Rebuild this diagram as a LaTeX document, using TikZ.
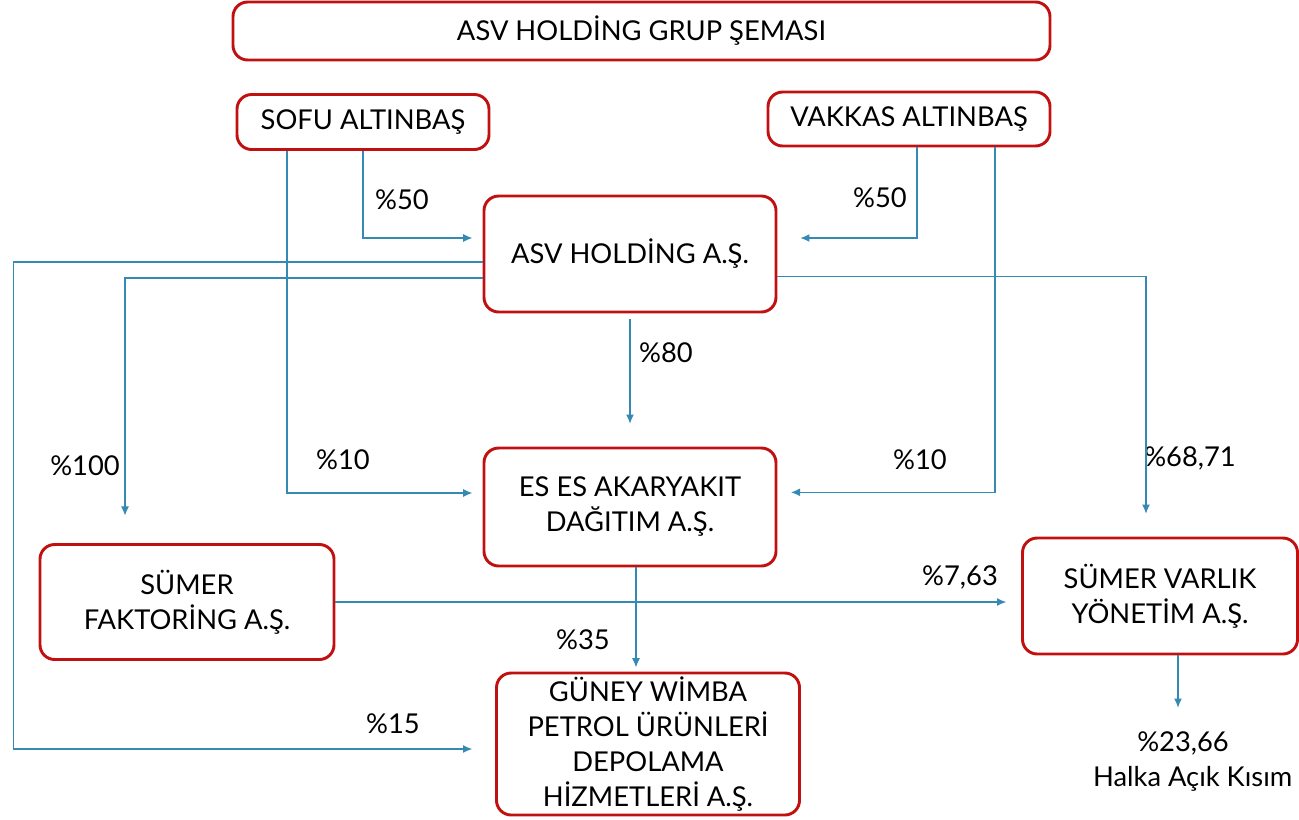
\documentclass[tikz,border=0pt]{standalone}
\usepackage{fontspec}
\setmainfont{Lato}
\usepackage{tikz}
\usetikzlibrary{arrows.meta}
\definecolor{boxred}{RGB}{192,16,16}
\definecolor{linkblue}{RGB}{52,138,178}

\begin{document}
\begin{tikzpicture}[x=0.75pt, y=-0.75pt,
  every node/.style={font=\fontsize{20.5}{26.25}\selectfont},
  box/.style={draw=boxred, line width=2.2pt, rounded corners=11pt, align=center, inner sep=0pt},
  link/.style={draw=linkblue, line width=1.1pt, ->, shorten >=7.5pt},
  >={Latex[length=7pt,width=6pt]}]
  \useasboundingbox (0,0) rectangle (1299,819);

  % companies and owners
  \node[box, minimum width=612.75pt, minimum height=43.5pt]  (title)     at (641.5,31) {ASV HOLDİNG GRUP ŞEMASI};
  \node[box, minimum width=189pt,    minimum height=41.25pt] (sofu)      at (363,122)  {SOFU ALTINBAŞ};
  \node[box, minimum width=211.5pt,  minimum height=40.5pt]  (vakkas)    at (909,119)  {VAKKAS ALTINBAŞ};
  \node[box, minimum width=219pt,    minimum height=87pt]    (asv)       at (630,254)  {ASV HOLDİNG A.Ş.};
  \node[box, minimum width=219pt,    minimum height=88.5pt]  (eses)      at (630,507)  {ES ES AKARYAKIT\\DAĞITIM A.Ş.};
  \node[box, minimum width=220.5pt,  minimum height=86.25pt] (faktoring) at (187,602)  {SÜMER\\FAKTORİNG A.Ş.};
  \node[box, minimum width=227.25pt, minimum height=106.5pt] (guney)     at (648,744)  {GÜNEY WİMBA\\PETROL ÜRÜNLERİ\\DEPOLAMA\\HİZMETLERİ A.Ş.};
  \node[box, minimum width=206.25pt, minimum height=87pt]    (varlik)    at (1160,596) {SÜMER VARLIK\\YÖNETİM A.Ş.};
  \node (pct)   at (1183,743) {\%23,66};
  \node[anchor=east] (halka) at (1297,779) {Halka Açık Kısım};

  % share labels
  \node (p50s)  at (402,200)  {\%50};
  \node (p50v)  at (880,198)  {\%50};
  \node (p10s)  at (343,460)  {\%10};
  \node (p10v)  at (920,460)  {\%10};
  \node (p100)  at (85,466)   {\%100};
  \node (p80)   at (666,353)  {\%80};
  \node (p6871) at (1190,458) {\%68,71};
  \node (p35)   at (583,640)  {\%35};
  \node (p763)  at (960,577)  {\%7,63};
  \node (p15)   at (393,724)  {\%15};

  % ownership links
  \draw[link] (sofu.south) |- ([yshift=12pt]asv.west);
  \draw[link] ([xshift=-57pt]sofu.south) |- ([yshift=10.5pt]eses.west);
  \draw[link, shorten >=17pt] ([xshift=6pt]vakkas.south) |- ([yshift=12pt]asv.east);
  \draw[link, shorten >=10pt] ([xshift=64.5pt]vakkas.south) |- ([yshift=11pt]eses.east);
  \draw[link, shorten >=17pt] ([yshift=-6pt]asv.west) -| ([xshift=-18.75pt]faktoring.west) |- ([yshift=-3.75pt]guney.west);
  \draw[link, shorten >=20.5pt] ([yshift=-18pt]asv.west) -| ([xshift=-46.5pt]faktoring.north);
  \draw[link, shorten >=17pt] ([yshift=-4.5pt]asv.south) -- (eses.north);
  \draw[link, shorten >=17pt] ([yshift=-17pt]asv.east) -| ([xshift=-10.5pt]varlik.north);
  \draw[link, shorten >=3pt] ([xshift=4.5pt]eses.south) -- ([xshift=4.5pt]eses.south |- guney.north);
  \draw[link, shorten >=11pt] (faktoring.east) -- (faktoring.east -| varlik.west);
  \draw[link, shorten >=14pt] ([xshift=13.5pt]varlik.south) -- ([xshift=13.5pt]varlik.south |- pct.north);
\end{tikzpicture}
\end{document}
